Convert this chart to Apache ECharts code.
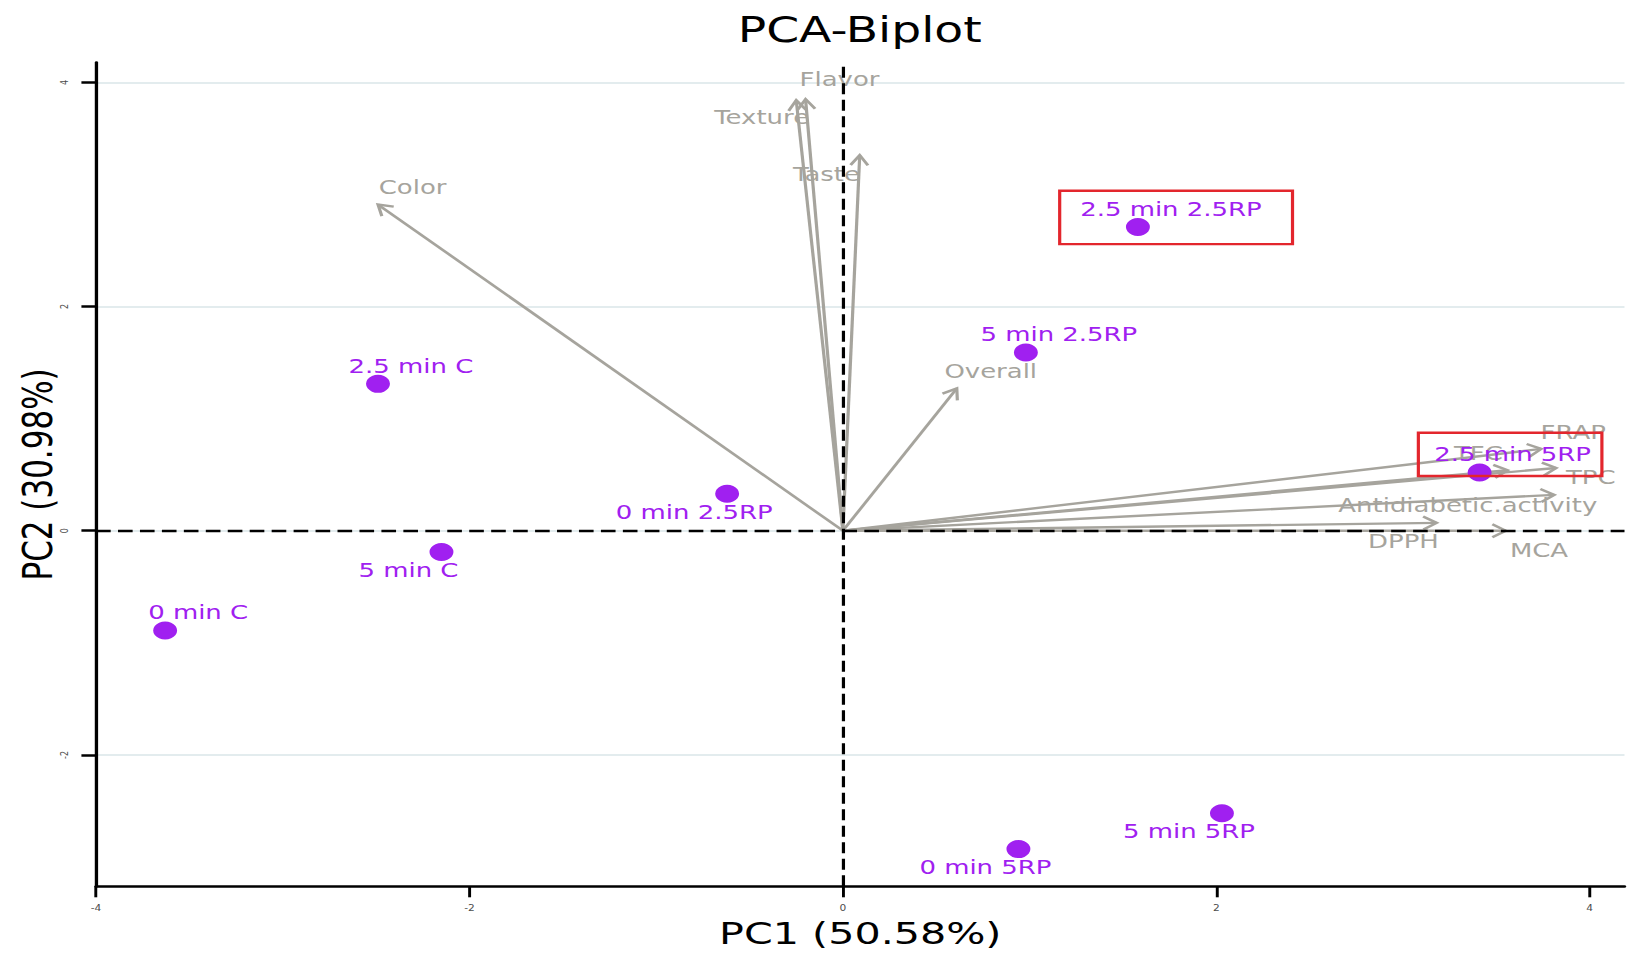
<!DOCTYPE html>
<html>
<head>
<meta charset="utf-8">
<script src="https://cdn.jsdelivr.net/npm/echarts@6/dist/echarts.min.js"></script>
<style>
html,body{margin:0;padding:0;background:#fff;overflow:hidden;width:1635px;height:958px;}
#chart{width:1229px;height:958px;transform:scaleX(1.33035);transform-origin:0 0;}
</style>
</head>
<body>
<div id="chart"></div>
<script>
// ---------- data ----------
const sampleNames = ['2.5 min 2.5RP','5 min 2.5RP','2.5 min C','0 min 2.5RP','5 min C','0 min C','2.5 min 5RP','5 min 5RP','0 min 5RP'];
const samplePC1   = [1.58, 0.98, -2.49, -0.62, -2.15, -3.63, 3.41, 2.03, 0.94];
const samplePC2   = [2.71, 1.59, 1.31, 0.33, -0.19, -0.89, 0.52, -2.52, -2.84];

const variableNames = ['Color','Texture','Flavor','Taste','Overall','FRAP','TPC','TFC','Antidiabetic.activity','DPPH','MCA'];
const loadingPC1    = [-2.49, -0.25, -0.20, 0.09, 0.61, 3.74, 3.82, 3.56, 3.81, 3.18, 3.55];
const loadingPC2    = [2.91, 3.84, 3.85, 3.35, 1.27, 0.73, 0.56, 0.54, 0.32, 0.07, 0.00];

const xTicks = [-4, -2, 0, 2, 4];
const yTicks = [-2, 0, 2, 4];
const xRange = [-4, 4.186];
const yRange = [-3.172, 4.176];

// highlighted (boxed) samples: [x1, y1, x2, y2] in PC units
const highlightBoxes = [
  [1.161, 3.033, 2.408, 2.557],
  [3.082, 0.874, 4.065, 0.488]
];

const titleText = 'PCA-Biplot';
const xName = 'PC1 (50.58%)';
const yName = 'PC2 (30.98%)';

// ---------- layout / style ----------
const FONT = '"DejaVu Sans", "Open Sans", sans-serif';
const GREY = '#a6a49d';
const PURPLE = '#A020F0';
// label placement: +1 = upper-right of the point, -1 = lower-left
const sampleLabelSide = [1, 1, 1, -1, -1, 1, 1, -1, -1];
// variable label offsets (px) from the arrow tip
const varLabelOffset = [[26,-17.5],[-26,17],[25.5,-20],[-25,19],[25.5,-17],[24,-17],[26,9],[-22,-17],[-65,10.5],[-25,18],[25,19.5]];

const chart = echarts.init(document.getElementById('chart'), null, {renderer: 'svg'});

function renderArrow(params, api) {
  const i = params.dataIndex;
  const o = api.coord([0, 0]);
  const t = api.coord([api.value(0), api.value(1)]);
  const ang = Math.atan2(t[1] - o[1], t[0] - o[0]);
  const L = 12, A = 33 * Math.PI / 180;
  const p1 = [t[0] - L * Math.cos(ang - A), t[1] - L * Math.sin(ang - A)];
  const p2 = [t[0] - L * Math.cos(ang + A), t[1] - L * Math.sin(ang + A)];
  const off = varLabelOffset[i];
  return {
    type: 'group',
    children: [
      {type: 'line', shape: {x1: o[0], y1: o[1], x2: t[0], y2: t[1]}, style: {stroke: GREY, lineWidth: 2.4}},
      {type: 'polyline', shape: {points: [p1, t, p2]}, style: {stroke: GREY, lineWidth: 2.4, fill: null}},
      {type: 'text', x: t[0] + off[0], y: t[1] + off[1],
       style: {text: variableNames[i], fill: GREY, fontSize: 19.5, fontFamily: FONT, align: 'center', verticalAlign: 'middle'}}
    ]
  };
}

const option = {
  animation: false,
  backgroundColor: '#fff',
  title: {
    text: titleText, left: 554.5, top: 12, padding: 0,
    textStyle: {fontSize: 35.5, fontWeight: 'normal', color: '#000', fontFamily: FONT}
  },
  grid: {left: 72.2, right: 7.9, top: 62.6, bottom: 71.7, containLabel: false, outerBoundsMode: 'none'},
  xAxis: {
    type: 'value', min: xRange[0], max: xRange[1],
    name: xName, nameLocation: 'middle', nameGap: 32, nameMoveOverlap: false,
    nameTextStyle: {fontSize: 31, color: '#000', fontFamily: FONT},
    axisLine: {show: true, onZero: false, lineStyle: {color: '#000', width: 2.5}},
    axisTick: {show: true, length: 11, customValues: xTicks, lineStyle: {color: '#000', width: 2.2}},
    axisLabel: {show: true, customValues: xTicks, margin: 18, fontSize: 8, color: '#4d4d4d', fontFamily: FONT, hideOverlap: false},
    splitLine: {show: false}
  },
  yAxis: {
    type: 'value', min: yRange[0], max: yRange[1],
    name: yName, nameLocation: 'middle', nameGap: 28, nameRotate: 90, nameMoveOverlap: false,
    nameTextStyle: {fontSize: 31, color: '#000', fontFamily: FONT},
    axisLine: {show: true, onZero: false, lineStyle: {color: '#000', width: 2.5}},
    axisTick: {show: true, length: 11, customValues: yTicks, lineStyle: {color: '#000', width: 2.5}},
    axisLabel: {show: true, customValues: yTicks, margin: 20, rotate: 90, fontSize: 8, color: '#4d4d4d', fontFamily: FONT, hideOverlap: false},
    splitLine: {show: true, lineStyle: {color: '#e3ecee', width: 2}}
  },
  series: [
    {
      type: 'custom', name: 'variables', z: 2, clip: false, silent: true,
      coordinateSystem: 'cartesian2d',
      encode: {x: 0, y: 1},
      data: loadingPC1.map((v, i) => [v, loadingPC2[i]]),
      renderItem: renderArrow
    },
    {
      type: 'scatter', name: 'zero', z: 3, data: [], silent: true,
      markLine: {
        silent: true, symbol: ['none', 'none'], label: {show: false},
        lineStyle: {color: '#000', width: 2.4, type: [11, 5.5]},
        emphasis: {disabled: true},
        data: [{xAxis: 0}, {yAxis: 0}]
      }
    },
    {
      type: 'scatter', name: 'samples', z: 4, silent: true,
      symbol: 'circle', symbolSize: 18,
      itemStyle: {color: PURPLE, opacity: 1},
      label: {show: true, position: 'inside', formatter: '{b}', color: PURPLE, fontSize: 19.5, fontFamily: FONT, align: 'center', verticalAlign: 'middle'},
      data: sampleNames.map((n, i) => ({
        name: n, value: [samplePC1[i], samplePC2[i]],
        label: {offset: [sampleLabelSide[i] * 24.8, -sampleLabelSide[i] * 18]}
      }))
    },
    {
      type: 'scatter', name: 'highlight', z: 10, data: [], silent: true,
      markArea: {
        silent: true, z: 10, label: {show: false},
        itemStyle: {color: 'rgba(0,0,0,0)', borderColor: '#e3262d', borderWidth: 2.4},
        emphasis: {disabled: true},
        data: highlightBoxes.map(b => [{coord: [b[0], b[1]]}, {coord: [b[2], b[3]]}])
      }
    }
  ]
};
chart.setOption(option);
</script>
</body>
</html>
